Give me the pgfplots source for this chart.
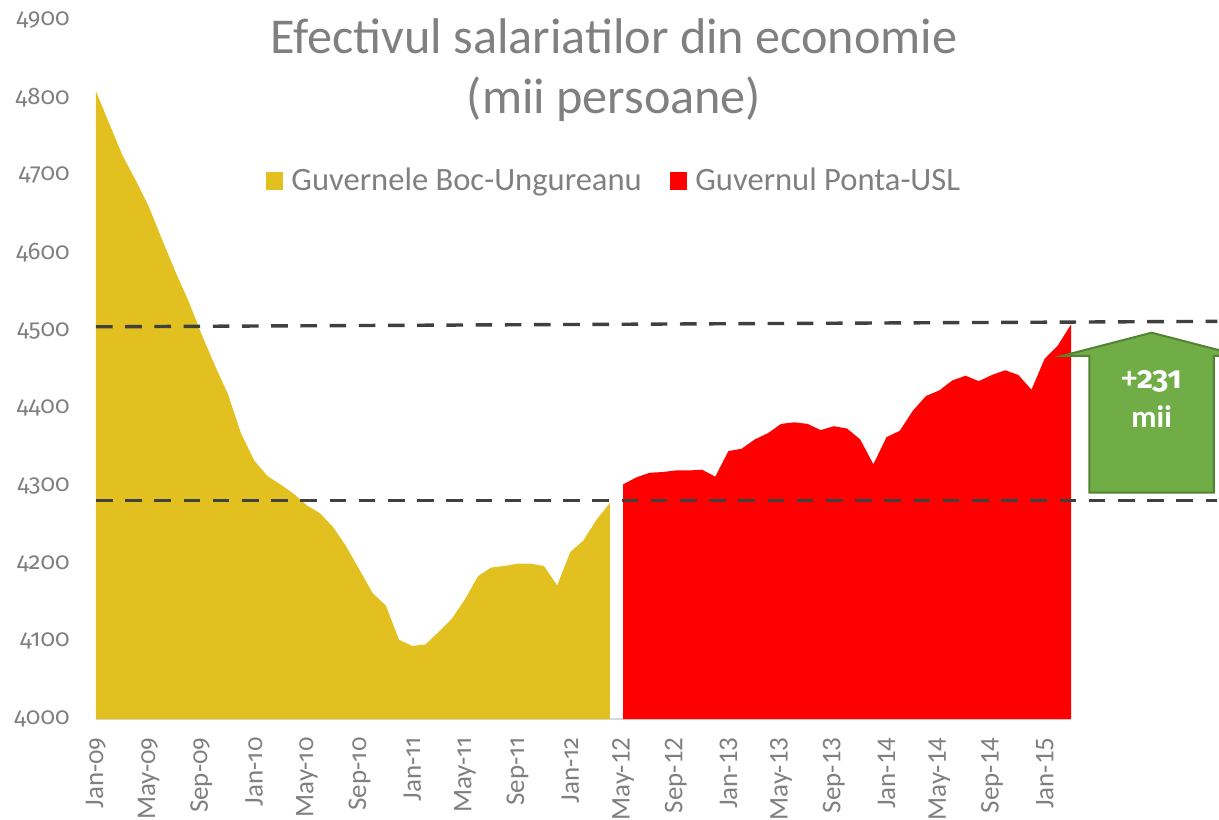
\documentclass[border=0pt]{standalone}
\usepackage{fontspec}
\setmainfont{Carlito}
\newfontfamily\osf{Fira Sans}[Numbers=OldStyle]
\usepackage{pgfplots}
\pgfplotsset{compat=1.18}
\definecolor{txtgray}{HTML}{808080}
\definecolor{boc}{HTML}{E2C01F}
\definecolor{ponta}{HTML}{FF0000}
\definecolor{dashc}{HTML}{404040}
\definecolor{arrowg}{HTML}{70AD47}
\definecolor{arrowd}{HTML}{548235}
\begin{document}
\begin{tikzpicture}
\useasboundingbox (-48pt,-50pt) rectangle (561.5pt,359.5pt);
\begin{axis}[
  at={(0,0)}, anchor=south west,
  width=487.5pt, height=349.5pt, scale only axis,
  xmin=0, xmax=74, ymin=4000, ymax=4900,
  clip=false,
  axis x line*=bottom, axis y line*=left,
  x axis line style={draw=black!15, line width=0.75pt, -},
  y axis line style={draw=none},
  major tick length=0pt,
  xtick={0,4,...,72},
  xticklabels={{Jan-{\osf\fontsize{12}{12}\selectfont 09}},{May-{\osf\fontsize{12}{12}\selectfont 09}},{Sep-{\osf\fontsize{12}{12}\selectfont 09}},{Jan-{\osf\fontsize{12}{12}\selectfont 10}},{May-{\osf\fontsize{12}{12}\selectfont 10}},{Sep-{\osf\fontsize{12}{12}\selectfont 10}},{Jan-{\osf\fontsize{12}{12}\selectfont 11}},{May-{\osf\fontsize{12}{12}\selectfont 11}},{Sep-{\osf\fontsize{12}{12}\selectfont 11}},{Jan-{\osf\fontsize{12}{12}\selectfont 12}},May-12,Sep-12,Jan-13,May-13,Sep-13,Jan-14,May-14,Sep-14,Jan-15},
  xticklabel style={rotate=90, anchor=east, inner sep=0pt, text=txtgray, font=\fontsize{13.5}{13.5}\selectfont},
  xticklabel shift=9pt,
  ytick={4000,4100,...,4900},
  yticklabels={4000,4100,4200,4300,4400,4500,4600,4700,4800,4900},
  yticklabel style={anchor=east, inner sep=0pt, text=txtgray, font=\osf\fontsize{12}{12}\selectfont},
  yticklabel shift=13pt,
  legend columns=2,
  legend style={at={(0.1738,0.7697)}, anchor=west, draw=none, fill=none, inner sep=0pt,
    font=\fontsize{16.3}{16.3}\selectfont, text=txtgray,
    nodes={inner sep=2pt},
    /tikz/every even column/.append style={column sep=12pt}},
  legend image code/.code={\fill[#1] (0pt,-4.4pt) rectangle (8.8pt,4.4pt); \path (10.8pt,0pt);},
]
\addplot[fill=boc, draw=none] coordinates {
(0,4000) (0,4808) (1,4767) (2,4726) (3,4694) (4,4660) (5,4618) (6,4577) (7,4539)
(8,4496) (9,4456) (10,4419) (11,4368) (12,4333) (13,4313) (14,4302) (15,4290)
(16,4275) (17,4265) (18,4247) (19,4222) (20,4192) (21,4162) (22,4146) (23,4102)
(24,4094) (25,4096) (26,4112) (27,4129) (28,4154) (29,4184) (30,4195) (31,4197)
(32,4200) (33,4200) (34,4197) (35,4172) (36,4215) (37,4230) (38,4257) (39,4278) (39,4000)};
\addlegendentry{Guvernele Boc-Ungureanu}
\addplot[fill=ponta, draw=none] coordinates {
(40,4000) (40,4302) (41,4311) (42,4317) (43,4318) (44,4320) (45,4320) (46,4321)
(47,4312) (48,4345) (49,4348) (50,4360) (51,4368) (52,4380) (53,4382) (54,4380)
(55,4372) (56,4377) (57,4374) (58,4360) (59,4328) (60,4363) (61,4371) (62,4397)
(63,4416) (64,4423) (65,4436) (66,4442) (67,4435) (68,4443) (69,4449) (70,4443)
(71,4424) (72,4464) (73,4481) (74,4508) (74,4000)};
\addlegendentry{Guvernul Ponta-USL}
\addplot[forget plot, draw=dashc, line width=1.7pt, dash pattern=on 8.3pt off 6.3pt] coordinates {(0,4505) (85.1,4512)};
\addplot[forget plot, draw=dashc, line width=1.7pt, dash pattern=on 8.3pt off 6.3pt] coordinates {(0,4281) (85.1,4281)};
\filldraw[fill=arrowg, draw=arrowd, line width=1pt]
  (axis cs:73.29,4467.4) -- (axis cs:80.12,4497.4) -- (axis cs:86.95,4467.4)
  -- (axis cs:84.85,4467.4) -- (axis cs:84.85,4291.4) -- (axis cs:75.39,4291.4)
  -- (axis cs:75.39,4467.4) -- cycle;
\node[text=white, font=\bfseries\fontsize{15.5}{15.5}\selectfont] at (axis cs:80.12,4434.3) {+{\osf 231}};
\node[text=white, font=\bfseries\fontsize{15.5}{15.5}\selectfont] at (axis cs:80.12,4388.8) {mii};
\end{axis}
\node[anchor=base, text=txtgray, font=\fontsize{25.1}{30}\selectfont] at (259pt,332.9pt) {Efectivul salariatilor din economie};
\node[anchor=base, text=txtgray, font=\fontsize{25.1}{30}\selectfont] at (259pt,302.9pt) {(mii persoane)};
\end{tikzpicture}
\end{document}
